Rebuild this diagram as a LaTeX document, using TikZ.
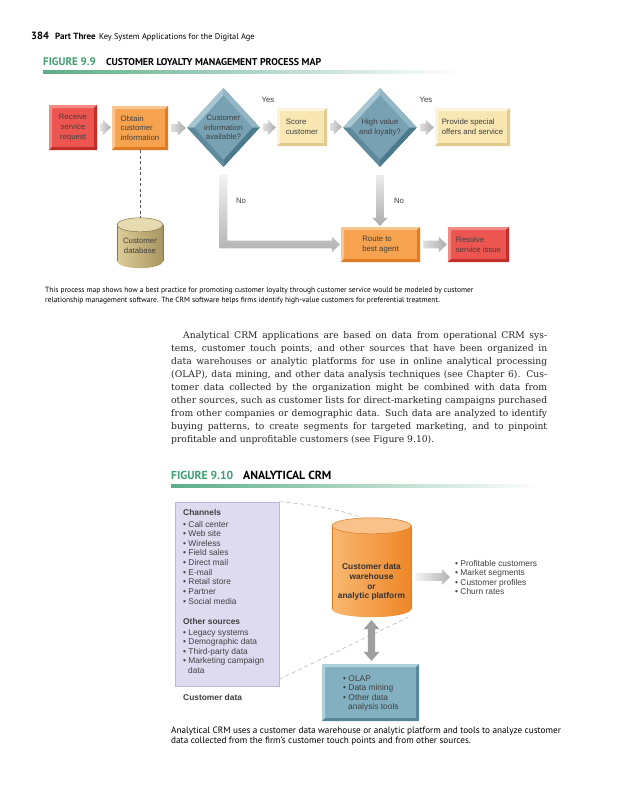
\documentclass[tikz,border=0pt]{standalone}
\usepackage{fontspec}
\setmainfont{DejaVu Serif}
\newfontfamily\hdr{PT Sans}
\newfontfamily\lab{Liberation Sans}
\usetikzlibrary{shapes.geometric,calc}
\definecolor{figgreen}{HTML}{3F9F73}
\definecolor{txt}{HTML}{404040}
\definecolor{bodytxt}{HTML}{262626}
\definecolor{redB}{HTML}{EC5550}
\definecolor{redL}{HTML}{F48A84}
\definecolor{redD}{HTML}{C42E2A}
\definecolor{orB}{HTML}{F6A24F}
\definecolor{orL}{HTML}{FAC58F}
\definecolor{orD}{HTML}{E07B22}
\definecolor{yeB}{HTML}{F8E7B2}
\definecolor{yeL}{HTML}{FCF4DA}
\definecolor{yeD}{HTML}{E2CA8C}
\definecolor{blB}{HTML}{78A2B3}
\definecolor{blL}{HTML}{A8C6D2}
\definecolor{blD}{HTML}{4B7A8D}
\definecolor{teB}{HTML}{82B0C0}
\definecolor{teL}{HTML}{AFCFDA}
\definecolor{teD}{HTML}{54889A}
\definecolor{khL}{HTML}{DCCD98}
\definecolor{khD}{HTML}{A89560}
\definecolor{khT}{HTML}{E6DAB0}
\definecolor{lav}{HTML}{DEDBF1}
\definecolor{lavD}{HTML}{BDB6DC}
\definecolor{cylL}{HTML}{F9B870}
\definecolor{cylD}{HTML}{EE8628}
\definecolor{cylT}{HTML}{F8C28A}

\tikzset{
 bev/.style n args={3}{fill=#1, path picture={
   \fill[#2] (path picture bounding box.north west) -- (path picture bounding box.north east) -- ([shift={(-3pt,-3pt)}]path picture bounding box.north east) -- ([shift={(3pt,-3pt)}]path picture bounding box.north west) -- ([shift={(3pt,3pt)}]path picture bounding box.south west) -- (path picture bounding box.south west) -- cycle;
   \fill[#3] (path picture bounding box.south east) -- (path picture bounding box.south west) -- ([shift={(3pt,3pt)}]path picture bounding box.south west) -- ([shift={(-3pt,3pt)}]path picture bounding box.south east) -- ([shift={(-3pt,-3pt)}]path picture bounding box.north east) -- (path picture bounding box.north east) -- cycle;
 }},
 dbev/.style n args={3}{fill=#1, path picture={
   \fill[#2] (path picture bounding box.west) -- (path picture bounding box.north) -- ([yshift=-7pt]path picture bounding box.north) -- ([xshift=7pt]path picture bounding box.west) -- cycle;
   \fill[#2!55!#1] (path picture bounding box.north) -- (path picture bounding box.east) -- ([xshift=-7pt]path picture bounding box.east) -- ([yshift=-7pt]path picture bounding box.north) -- cycle;
   \fill[#3] (path picture bounding box.east) -- (path picture bounding box.south) -- ([yshift=7pt]path picture bounding box.south) -- ([xshift=-7pt]path picture bounding box.east) -- cycle;
   \fill[#3!60!#1] (path picture bounding box.south) -- (path picture bounding box.west) -- ([xshift=7pt]path picture bounding box.west) -- ([yshift=7pt]path picture bounding box.south) -- cycle;
 }},
 fbox/.style={rectangle, inner sep=0pt, text=txt, font=\lab\fontsize{7.8}{9.7}\selectfont},
 dia/.style={diamond, aspect=0.93, inner sep=0pt, align=center, text=txt, font=\lab\fontsize{7.8}{9.7}\selectfont, minimum width=73pt, minimum height=79pt},
 lst/.style={inner sep=0pt, anchor=base west, text=txt, font=\lab\fontsize{8.4}{9.7}\selectfont},
 lsthd/.style={lst, font=\lab\bfseries\fontsize{8.4}{9.7}\selectfont},
 body/.style={inner sep=0pt, anchor=base west, text=bodytxt, font=\fontsize{9.2}{13}\selectfont},
 capt/.style={inner sep=0pt, anchor=base west, text=black, font=\hdr\fontsize{7.5}{10}\selectfont},
 ttl/.style={inner sep=0pt, anchor=base west, font=\hdr\bfseries\fontsize{9.9}{11}\selectfont},
 hdrs/.style={inner sep=0pt, anchor=base west, font=\hdr\fontsize{8.4}{11}\selectfont},
 dashl/.style={draw=gray!55, dashed, dash pattern=on 4pt off 3pt, line width=0.6pt},
}

% horizontal fat arrow: #1 start, #2 tip, #3 left colour, #4 right colour
\newcommand\harrow[4]{\shade[left color=#3, right color=#4] let \p1=#1, \p2=#2 in
  (\x1,\y1-3.8pt) -- (\x2-8pt,\y1-3.8pt) -- (\x2-8pt,\y1-7.8pt) -- (\x2,\y1) -- (\x2-8pt,\y1+7.8pt) -- (\x2-8pt,\y1+3.8pt) -- (\x1,\y1+3.8pt) -- cycle;}

% cylinder on node #1: #2 x radius, #3 y radius, #4 left, #5 right, #6 top, #7 edge
\newcommand\drawcyl[7]{%
  \shade[left color=#4, right color=#5] ([yshift=-#3]#1.north west) rectangle ([yshift=#3]#1.south east);
  \shade[left color=#4, right color=#5] ([yshift=#3]#1.south) ellipse [x radius=#2, y radius=#3];
  \draw[#7, line width=0.5pt] ([yshift=-#3]#1.north west) -- ([yshift=#3]#1.south west);
  \draw[#7, line width=0.5pt] ([yshift=-#3]#1.north east) -- ([yshift=#3]#1.south east);
  \filldraw[fill=#6, draw=#7, line width=0.5pt] ([yshift=-#3]#1.north) ellipse [x radius=#2, y radius=#3];
}

\begin{document}
\begin{tikzpicture}[x=1pt, y=-1pt]
\useasboundingbox[fill=white] (0,0) rectangle (617,800);

% ---------- page header ----------
\node[hdrs, font=\hdr\bfseries\fontsize{10.5}{12}\selectfont] (pg) at (31,40) {384};
\node[hdrs, font=\hdr\bfseries\fontsize{9}{12}\selectfont] (pt) at (55,40) {Part Three};
\node[hdrs] (ps) at ([xshift=3pt]pt.base east) {Key System Applications for the Digital Age};

% ---------- Figure 9.9 title ----------
\node[ttl, text=figgreen, font=\hdr\bfseries\fontsize{11}{12}\selectfont] (f9n) at (43,66) {FIGURE 9.9};
\node[ttl] (f9t) at (106,66) {CUSTOMER LOYALTY MANAGEMENT PROCESS MAP};
\shade[left color=figgreen!85, middle color=figgreen!45, right color=white] (43,70.5) rectangle (462,73.5);

% ---------- Figure 9.9 diagram ----------
\node[fbox, bev={redB}{redL}{redD}, minimum width=48pt, minimum height=45pt, align=center] (recv) at (73,127.5) {Receive\\service\\request};
\node[fbox, bev={orB}{orL}{orD}, minimum width=56pt, minimum height=44pt, align=left] (obt) at (140,128) {Obtain\\customer\\information};
\node[dia, dbev={blB}{blL}{blD}] (d1) at (223.5,127.5) {Customer\\information\\available?};
\node[fbox, bev={yeB}{yeL}{yeD}, minimum width=50pt, minimum height=38pt, align=left] (score) at (302,127) {Score\\customer};
\node[dia, dbev={blB}{blL}{blD}, minimum width=74pt] (d2) at (380,127.5) {High value\\and loyalty?};
\node[fbox, bev={yeB}{yeL}{yeD}, minimum width=75pt, minimum height=38pt, align=left] (offer) at (472.5,127) {Provide special\\offers and service};
\node[fbox, minimum width=46pt, minimum height=50pt] (db) at (140,243) {};
\drawcyl{db}{23pt}{7pt}{khL}{khD}{khT}{khD!80!black}
\node[fbox, align=center] (dbt) at ([yshift=-3pt]db.center) {Customer\\database};
\node[fbox, bev={orB}{orL}{orD}, minimum width=79pt, minimum height=35pt, align=left] (route) at (380.5,244.5) {Route to\\best agent};
\node[fbox, bev={redB}{redL}{redD}, minimum width=61pt, minimum height=35pt, align=left] (resolve) at (478.5,244.5) {Resolve\\service issue};

\node[fbox] (y1) at (268,100) {Yes};
\node[fbox] (y2) at (426,100) {Yes};
\node[fbox] (n1) at (241,201) {No};
\node[fbox] (n2) at (399,201) {No};

\harrow{([xshift=3pt]recv.east)}{([xshift=-1pt]obt.west)}{gray!25}{gray!65}
\harrow{([xshift=3pt]obt.east)}{([xshift=-1pt]d1.west)}{gray!25}{gray!65}
\harrow{([xshift=3pt]d1.east)}{([xshift=-1pt]score.west)}{gray!25}{gray!65}
\harrow{([xshift=3pt]score.east)}{([xshift=-1pt]d2.west)}{gray!25}{gray!65}
\harrow{([xshift=3pt]d2.east)}{([xshift=-1pt]offer.west)}{gray!25}{gray!65}
\harrow{([xshift=3pt]route.east)}{([xshift=-1pt]resolve.west)}{gray!25}{gray!65}
\draw[dashl, draw=gray!70!black, dash pattern=on 3pt off 2.5pt, line width=0.9pt] (obt.south) -- (db.north);
% No branch from d1
\shade[top color=gray!10, bottom color=gray!60] let \p1=(d1.south), \p2=(route.west) in
  (\x1-3.8pt,\y1-8pt) -- (\x1+3.8pt,\y1-8pt) -- (\x1+3.8pt,\y2+3.8pt) -- (\x2-9pt,\y2+3.8pt) -- (\x2-9pt,\y2+7.8pt) -- (\x2-1pt,\y2) -- (\x2-9pt,\y2-7.8pt) -- (\x2-9pt,\y2-3.8pt) -- (\x1-3.8pt,\y2-3.8pt) -- cycle;
% No branch from d2
\shade[top color=gray!15, bottom color=gray!65] let \p1=(d2.south), \p2=(route.north) in
  (\x1-3.8pt,\y1-8pt) -- (\x1+3.8pt,\y1-8pt) -- (\x1+3.8pt,\y2+9pt) -- (\x1+7.8pt,\y2+9pt) -- (\x1,\y2+1pt) -- (\x1-7.8pt,\y2+9pt) -- (\x1-3.8pt,\y2+9pt) -- cycle;

% ---------- caption 9.9 ----------
\node[capt] (c1) at (45,292) {This process map shows how a best practice for promoting customer loyalty through customer service would be modeled by customer};
\node[capt] (c2) at (45,302) {relationship management software. The CRM software helps firms identify high-value customers for preferential treatment.};

% ---------- body text ----------
\node[body] (b1) at (183,338) {\makebox[364pt][s]{Analytical CRM applications are based on data from operational CRM sys-}};
\node[body] (b2) at (171,351) {\makebox[376pt][s]{tems, customer touch points, and other sources that have been organized in}};
\node[body] (b3) at (171,364) {\makebox[376pt][s]{data warehouses or analytic platforms for use in online analytical processing}};
\node[body] (b4) at (171,377) {\makebox[376pt][s]{(OLAP), data mining, and other data analysis techniques (see Chapter 6). Cus-}};
\node[body] (b5) at (171,390) {\makebox[376pt][s]{tomer data collected by the organization might be combined with data from}};
\node[body] (b6) at (171,403) {\makebox[376pt][s]{other sources, such as customer lists for direct-marketing campaigns purchased}};
\node[body] (b7) at (171,416) {\makebox[376pt][s]{from other companies or demographic data. Such data are analyzed to identify}};
\node[body] (b8) at (171,429) {\makebox[376pt][s]{buying patterns, to create segments for targeted marketing, and to pinpoint}};
\node[body] (b9) at (171,442) {profitable and unprofitable customers (see Figure 9.10).};

% ---------- Figure 9.10 title ----------
\node[ttl, text=figgreen, font=\hdr\bfseries\fontsize{11.6}{12}\selectfont] (f10n) at (171,479) {FIGURE 9.10};
\node[ttl, font=\hdr\bfseries\fontsize{11.8}{12}\selectfont] (f10t) at (243,479) {ANALYTICAL CRM};
\shade[left color=figgreen!85, middle color=figgreen!45, right color=white] (171,484.5) rectangle (542,487.5);

% ---------- Figure 9.10 diagram ----------
\node[draw=lavD, fill=lav, line width=0.6pt, minimum width=104pt, minimum height=184pt, inner sep=0pt] (chan) at (227,594) {};
\node[lsthd] (chh) at (183,515) {Channels};
\foreach \t [count=\i] in {Call center, Web site, Wireless, Field sales, Direct mail, E-mail, Retail store, Partner, Social media}
  \node[lst] (ch\i) at (183,{527+9.65*(\i-1)}) {• \t};
\node[lsthd] (osh) at (183,624) {Other sources};
\foreach \t [count=\i] in {Legacy systems, Demographic data, Third-party data, Marketing campaign}
  \node[lst] (os\i) at (183,{635+9.65*(\i-1)}) {• \t};
\node[lst] (os5) at (188,673.6) {data};
\node[lsthd] (cdl) at (183,700) {Customer data};

\node[inner sep=0pt, minimum width=79pt, minimum height=99pt] (dw) at (371.5,567.5) {};
\draw[dashl] (chan.north east) .. controls (320,505) and (350,512) .. ([yshift=-4pt]dw.north);
\draw[dashl] ([yshift=7pt]chan.south east) -- ([xshift=-3pt]dw.south east);
\drawcyl{dw}{39.5pt}{8pt}{cylL}{cylD}{cylT}{orD}
\node[inner sep=0pt, align=center, text=txt!80!black, font=\lab\bfseries\fontsize{8.4}{9.7}\selectfont] (dwt) at (371.5,582) {Customer data\\warehouse\\or\\analytic platform};

\coordinate (outT) at (450,577);
\harrow{([shift={(4pt,-9.5pt)}]dw.east)}{(outT)}{gray!8}{gray!60}
\foreach \t [count=\i] in {Profitable customers, Market segments, Customer profiles, Churn rates}
  \node[lst] (r\i) at (455,{566+9.5*(\i-1)}) {• \t};

\node[fbox, bev={teB}{teL}{teD}, minimum width=97pt, minimum height=57pt] (tools) at (370.5,692.5) {};
\node[lst] (t1) at (343,681) {• OLAP};
\node[lst] (t2) at (343,690.6) {• Data mining};
\node[lst] (t3) at (343,700.2) {• Other data};
\node[lst] (t4) at (348,709.8) {analysis tools};

\fill[gray!75] let \p1=(dw.south), \p2=(tools.north) in
  (\x1,\y1-3pt) -- (\x1+8pt,\y1-12pt) -- (\x1+3.6pt,\y1-12pt) -- (\x1+3.6pt,\y2+12pt) -- (\x1+8pt,\y2+12pt) -- (\x1,\y2+3pt) -- (\x1-8pt,\y2+12pt) -- (\x1-3.6pt,\y2+12pt) -- (\x1-3.6pt,\y1-12pt) -- (\x1-8pt,\y1-12pt) -- cycle;

% ---------- caption 9.10 ----------
\node[capt, font=\hdr\fontsize{9.2}{10}\selectfont] (c3) at (171,733) {Analytical CRM uses a customer data warehouse or analytic platform and tools to analyze customer};
\node[capt, font=\hdr\fontsize{9.2}{10}\selectfont] (c4) at (171,743) {data collected from the firm’s customer touch points and from other sources.};
\end{tikzpicture}
\end{document}
